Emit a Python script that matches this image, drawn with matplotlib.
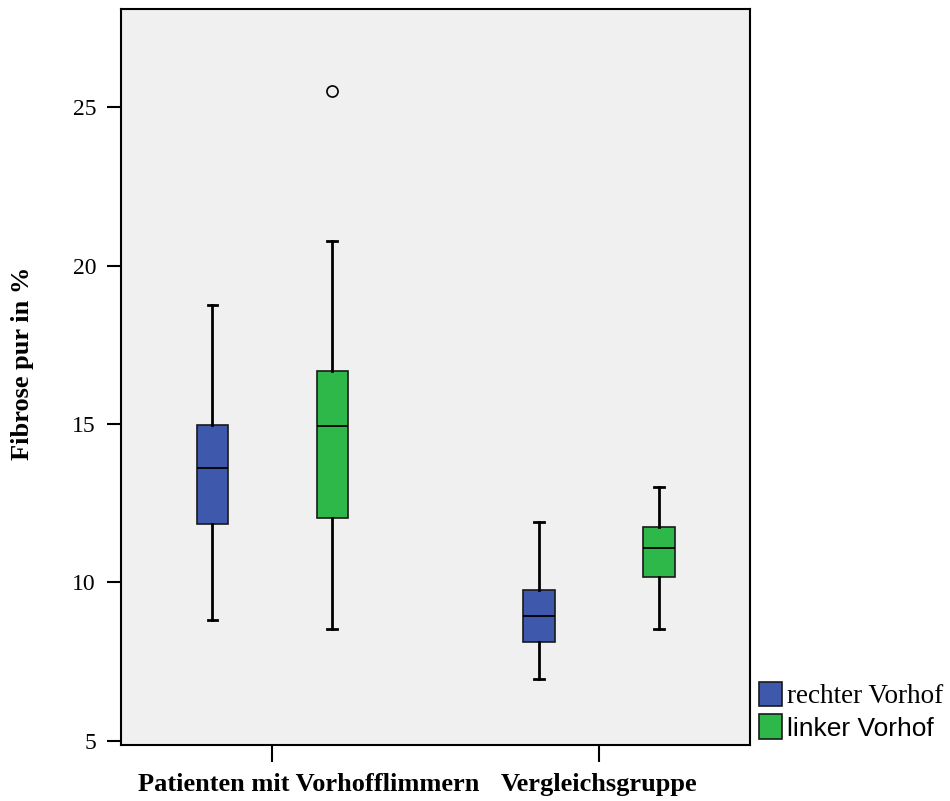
import matplotlib
matplotlib.use("Agg")
from matplotlib import pyplot as plt
from matplotlib.patches import Patch
from matplotlib.transforms import ScaledTranslation

# values
groups = ['Patienten mit Vorhofflimmern', 'Vergleichsgruppe']
series = ['rechter Vorhof', 'linker Vorhof']
colors = ['#3e58ac', '#2eb84a']

# [group][series]
whislo = [[8.80, 8.53], [6.96, 8.54]]
q1 = [[11.85, 12.03], [8.12, 10.18]]
med = [[13.61, 14.95], [8.95, 11.10]]
q3 = [[14.97, 16.68], [9.77, 11.74]]
whishi = [[18.77, 20.78], [11.90, 13.00]]
fliers = [[[], [25.52]], [[], []]]

fig = plt.figure(figsize=(9.5, 8.01), dpi=100)
ax = fig.add_axes([0.1274, 0.0699, 0.6621, 0.919])
ax.set_facecolor('#f0f0f0')

offset = 0.1835
for s in range(len(series)):
    stats = []
    pos = []
    for g in range(len(groups)):
        stats.append(dict(whislo=whislo[g][s], q1=q1[g][s], med=med[g][s],
                          q3=q3[g][s], whishi=whishi[g][s], fliers=fliers[g][s]))
        pos.append(g + (s - 0.5) * 2 * offset)
    ax.bxp(stats, positions=pos, widths=0.095, patch_artist=True,
           capwidths=0.028, manage_ticks=False,
           boxprops=dict(facecolor=colors[s], edgecolor='#1a1a1a', linewidth=1.2),
           medianprops=dict(color='black', linewidth=1.3),
           whiskerprops=dict(color='black', linewidth=2),
           capprops=dict(color='black', linewidth=2),
           flierprops=dict(marker='o', markerfacecolor='none',
                           markeredgecolor='black', markersize=8,
                           markeredgewidth=1.2))

ax.set_xlim(-0.462, 1.462)
ax.set_ylim(4.87, 28.1)
ax.set_yticks([5, 10, 15, 20, 25])
ax.set_xticks([0, 1])
ax.set_xticklabels([])
# category labels (the first one sits a bit right of its tick, as in SPSS)
shifts = [0.37, 0.0]
for g, name in enumerate(groups):
    ax.text(g, -0.038, name, transform=ax.get_xaxis_transform()
            + ScaledTranslation(shifts[g], 0, fig.dpi_scale_trans),
            ha='center', va='top', fontfamily='Liberation Serif',
            fontweight='bold', fontsize=19)
for lab in ax.get_yticklabels():
    lab.set_fontfamily('Liberation Serif')
    lab.set_fontsize(17)
ax.tick_params(axis='y', length=10, width=1.5, pad=8)
ax.tick_params(axis='x', length=12, width=1.5)
for sp in ax.spines.values():
    sp.set_linewidth(1.5)
ax.set_ylabel('Fibrose pur in %', fontfamily='Liberation Serif', fontweight='bold',
              fontsize=19)
ax.yaxis.set_label_coords(-0.139, 0.519)

handles = [Patch(facecolor=c, edgecolor='#1a1a1a', linewidth=1.2) for c in colors]
leg = fig.legend(handles, series, loc='upper left', bbox_to_anchor=(0.799, 0.149),
                 frameon=False, handlelength=0.85, handleheight=1.0, handletextpad=0.2,
                 labelspacing=0.2, borderpad=0, borderaxespad=0, fontsize=19.5)
texts = leg.get_texts()
texts[0].set_fontfamily('Liberation Serif')
texts[1].set_fontfamily('Liberation Sans')
texts[1].set_fontsize(19)

fig.savefig('out.png', dpi=100)
